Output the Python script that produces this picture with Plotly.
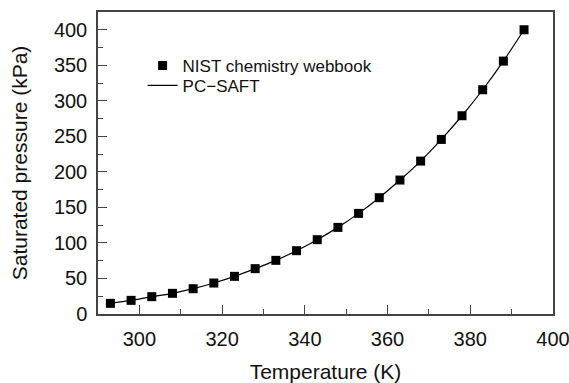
import plotly.graph_objects as go

# Data
temperature_K = [293, 298, 303, 308, 313, 318, 323, 328, 333, 338, 343,
                 348, 353, 358, 363, 368, 373, 378, 383, 388, 393]
nist_kPa = [15.0, 19.2, 24.4, 29.1, 35.6, 43.6, 53.0, 63.8, 75.5, 89.1, 104.6,
            121.9, 141.6, 163.7, 188.5, 215.2, 245.7, 279.0, 315.6, 355.9, 400.0]
pcsaft_kPa = [15.0, 19.2, 24.4, 29.1, 35.6, 43.6, 53.0, 63.8, 75.5, 89.1, 104.6,
              121.9, 141.6, 163.7, 188.5, 215.2, 245.7, 279.0, 315.6, 355.9, 400.0]

x_ticks = [300, 320, 340, 360, 380, 400]
y_ticks = [0, 50, 100, 150, 200, 250, 300, 350, 400]

FONT = "Liberation Sans, Arial, sans-serif"
AXIS_COLOR = "#444444"
TEXT_COLOR = "#111111"

fig = go.Figure()
fig.add_trace(go.Scatter(
    x=temperature_K, y=pcsaft_kPa, mode="lines", name="PC\u2212SAFT",
    line=dict(color="black", width=1.2, shape="spline"), legend="legend2",
))
fig.add_trace(go.Scatter(
    x=temperature_K, y=nist_kPa, mode="markers", name="NIST chemistry webbook",
    marker=dict(symbol="square", size=9, color="black"), legend="legend",
))

axis_common = dict(
    showline=True, linecolor=AXIS_COLOR, linewidth=1.5, mirror=True,
    ticks="inside", ticklen=9, tickwidth=1.2, tickcolor=AXIS_COLOR,
    showgrid=False, zeroline=False, automargin=False,
    tickfont=dict(family=FONT, size=20, color=TEXT_COLOR),
)

fig.update_xaxes(
    range=[290, 400], tickvals=x_ticks,
    minor=dict(ticks="inside", ticklen=5, dtick=10, tick0=290, tickcolor=AXIS_COLOR, tickwidth=1.2),
    title=dict(text="Temperature (K)", font=dict(family=FONT, size=21, color=TEXT_COLOR), standoff=16),
    ticklabelstandoff=6, ticklabeloverflow="allow",
    **axis_common,
)
fig.update_yaxes(
    range=[0, 425], tickvals=y_ticks,
    minor=dict(ticks="inside", ticklen=5, dtick=25, tick0=0, tickcolor=AXIS_COLOR, tickwidth=1.2),
    title=dict(text="Saturated pressure (kPa)", font=dict(family=FONT, size=21, color=TEXT_COLOR), standoff=21),
    ticklabelstandoff=5,
    **axis_common,
)

legend_common = dict(
    xanchor="left", yanchor="top", bgcolor="rgba(0,0,0,0)", borderwidth=0,
    font=dict(family=FONT, size=17, color=TEXT_COLOR), itemwidth=30,
)

fig.update_layout(
    width=569, height=383,
    margin=dict(l=98, r=16, t=12, b=69),
    plot_bgcolor="white", paper_bgcolor="white",
    font=dict(family=FONT, color=TEXT_COLOR),
    legend=dict(x=0.098, y=0.881, **legend_common),
    legend2=dict(x=0.098, y=0.815, **legend_common),
    showlegend=True,
)

fig.write_html("out.html")
